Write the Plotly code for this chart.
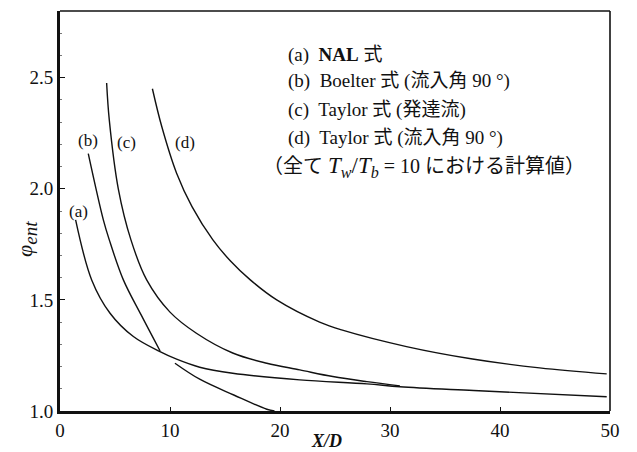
import plotly.graph_objects as go

# Curve (a): NAL correlation
a_x = [1.42, 2.88, 4.55, 6.67, 9.09, 10.6, 12.7, 15.7, 21.8, 27.9, 30.9, 37.6, 49.7]
a_y = [1.86, 1.59, 1.44, 1.335, 1.267, 1.233, 1.197, 1.170, 1.140, 1.122, 1.109, 1.092, 1.064]

# Curve (b): Boelter correlation (two drawn pieces, gap marked by None)
b_x = [2.57, 3.94, 4.48, 5.76, 7.4, 9.1, None, 10.45, 12.7, 15.8, 18.8, 19.5]
b_y = [2.158, 1.86, 1.77, 1.59, 1.43, 1.27, None, 1.215, 1.143, 1.072, 1.008, 1.0]

# Curve (c): Taylor correlation, developing flow
c_x = [4.24, 4.48, 5.3, 6.45, 7.88, 10.0, 12.4, 15.7, 18.8, 21.8, 24.8, 27.9, 30.9]
c_y = [2.476, 2.31, 2.0, 1.77, 1.59, 1.445, 1.35, 1.261, 1.215, 1.185, 1.155, 1.132, 1.113]

# Curve (d): Taylor correlation, 90 deg inlet
d_x = [8.4, 9.25, 10.6, 12.0, 13.9, 15.5, 17.3, 19.7, 23.6, 25.6, 31.5, 37.5, 43.6, 49.7]
d_y = [2.45, 2.28, 2.07, 1.92, 1.77, 1.675, 1.59, 1.50, 1.40, 1.365, 1.29, 1.234, 1.194, 1.167]

curve_labels = ["(a)", "(b)", "(c)", "(d)"]
curve_label_x = [1.65, 2.55, 6.06, 11.4]
curve_label_y = [1.90, 2.216, 2.21, 2.21]

legend_lines = [
    "(a)  <b>NAL</b> 式",
    "(b)  Boelter 式 (流入角 90 °)",
    "(c)  Taylor 式 (発達流)",
    "(d)  Taylor 式 (流入角 90 °)",
]
legend_y = [2.60, 2.483, 2.356, 2.228]
note_text = ("（全て <span style='font-size:23px'><i>T<sub>w</sub></i>/<i>T<sub>b</sub></i></span>"
             " = 10 における計算値）")

x_ticks = [0, 10, 20, 30, 40, 50]
y_ticks = [1.0, 1.5, 2.0, 2.5]

SERIF = "Liberation Serif, Noto Sans CJK JP, serif"
INK = "#111111"

fig = go.Figure()
for xs, ys, name in [(a_x, a_y, "(a)"), (b_x, b_y, "(b)"), (c_x, c_y, "(c)"), (d_x, d_y, "(d)")]:
    fig.add_trace(go.Scatter(
        x=xs, y=ys, name=name, mode="lines",
        line=dict(color=INK, width=1.4, shape="spline", smoothing=1.0),
        connectgaps=False, showlegend=False, hoverinfo="skip",
    ))

annotations = []
for t, x, y in zip(curve_labels, curve_label_x, curve_label_y):
    annotations.append(dict(x=x, y=y, xref="x", yref="y", text=t, showarrow=False,
                            font=dict(family=SERIF, size=17, color=INK)))
for t, y in zip(legend_lines, legend_y):
    annotations.append(dict(x=20.5, y=y, xref="x", yref="y", text=t, showarrow=False,
                            xanchor="left", font=dict(family=SERIF, size=19, color=INK)))
annotations.append(dict(x=18.3, y=2.100, xref="x", yref="y", text=note_text, showarrow=False,
                        xanchor="left", font=dict(family=SERIF, size=20, color=INK)))
# axis titles
annotations.append(dict(x=-0.062, y=0.43, xref="paper", yref="paper", xanchor="center",
                        text="<i>φ<sub><span style='font-size:19px'>ent</span></sub></i>",
                        textangle=-90, showarrow=False,
                        font=dict(family=SERIF, size=22, color=INK)))
annotations.append(dict(x=0.485, y=-0.074, xref="paper", yref="paper", yanchor="middle",
                        text="<i><b>X/D</b></i>", showarrow=False,
                        font=dict(family=SERIF, size=18, color=INK)))

fig.update_layout(
    width=637, height=452,
    margin=dict(l=60, r=27, t=11, b=41),
    paper_bgcolor="white", plot_bgcolor="white",
    annotations=annotations,
    shapes=[
        dict(type="line", xref="paper", yref="paper", x0=0, x1=1, y0=1, y1=1,
             line=dict(color=INK, width=1.6)),
        dict(type="line", xref="paper", yref="paper", x0=1, x1=1, y0=0, y1=1,
             line=dict(color=INK, width=1.6)),
    ],
)
fig.update_xaxes(
    range=[0, 50], tickvals=x_ticks, ticktext=[str(v) for v in x_ticks],
    showgrid=False, zeroline=False, showline=True, linewidth=3, linecolor=INK,
    ticks="inside", ticklen=4, tickwidth=1.3, tickcolor=INK,
    tickfont=dict(family=SERIF, size=19, color=INK),
)
fig.update_yaxes(
    range=[1.0, 2.8], tickvals=y_ticks, ticktext=[f"{v:.1f}" for v in y_ticks],
    showgrid=False, zeroline=False, showline=True, linewidth=3, linecolor=INK,
    ticks="inside", ticklen=5, tickwidth=1.3, tickcolor=INK,
    minor=dict(ticks="inside", ticklen=2, tickwidth=1, tickcolor="#777", dtick=0.1, showgrid=False),
    tickfont=dict(family=SERIF, size=19, color=INK),
)

fig.write_html("out.html")
